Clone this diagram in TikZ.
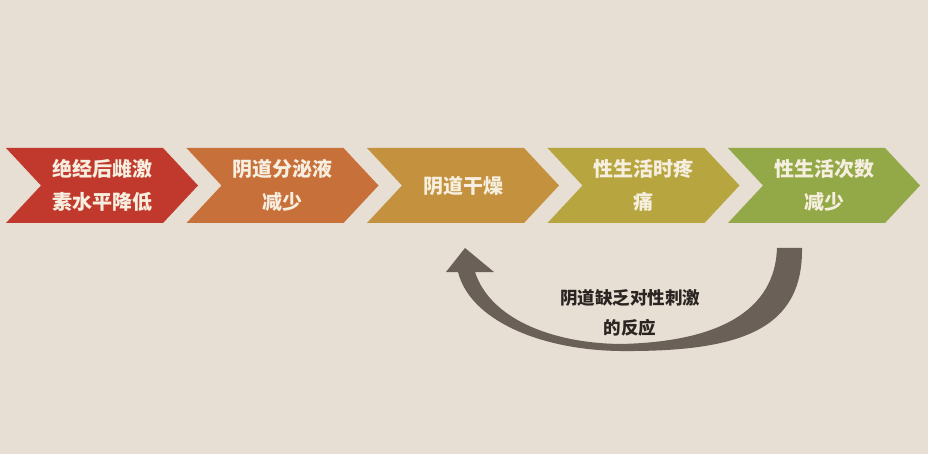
\documentclass[tikz,border=0pt]{standalone}
\usepackage{fontspec}
\newfontfamily\cjk{Noto Sans CJK SC}
\usepackage{tikz}
\usetikzlibrary{positioning,shapes.symbols}

\definecolor{bgcol}{HTML}{E7DED4}
\definecolor{chevA}{HTML}{C1392C}
\definecolor{chevB}{HTML}{C8703A}
\definecolor{chevC}{HTML}{C4923E}
\definecolor{chevD}{HTML}{B7A53F}
\definecolor{chevE}{HTML}{93A846}
\definecolor{txtcol}{HTML}{F6EEDF}
\definecolor{loopcol}{HTML}{6B6058}
\definecolor{notecol}{HTML}{2B2522}

\tikzset{
  chev/.style={signal, signal from=west, signal to=east, signal pointer angle=94,
    minimum width=192pt, minimum height=75pt, inner sep=0pt, draw=none,
    text=txtcol, align=center, font=\cjk\bfseries\fontsize{20}{33}\selectfont},
  note/.style={text=notecol, align=center, font=\cjk\bfseries\fontsize{17.5}{30}\selectfont}
}

\begin{document}
\begin{tikzpicture}[x=1pt, y=-1pt, node distance=180.5pt, on grid]
\fill[bgcol] (0,0) rectangle (928,454);
\useasboundingbox (0,0) rectangle (928,454);

%Nodes
\node[chev, fill=chevA]     (c1)    at (102,185.5)  {绝经后雌激\\素水平降低};
\node[chev, fill=chevB]     (c2)    [right=of c1]   {阴道分泌液\\减少};
\node[chev, fill=chevC]     (c3)    [right=of c2]   {阴道干燥};
\node[chev, fill=chevD]     (c4)    [right=of c3]   {性生活时疼\\痛};
\node[chev, fill=chevE]     (c5)    [right=of c4]   {性生活次数\\减少};
\node[note]                 (n)     at (630,313)    {阴道缺乏对性刺激\\的反应};

%Loop back
\coordinate (from) at (790,248);
\coordinate (tip)  at (465,248);
\fill[loopcol] (802,248) .. controls (803,330) and (740,352) .. (620,351)
    .. controls (540,350) and (470,320) .. (458,272)
    -- (446,272) -- (tip) -- (494,272) -- (475,272)
    .. controls (490,318) and (550,343) .. (620,344)
    .. controls (720,342) and (775,310) .. (777,248) -- cycle;
\end{tikzpicture}
\end{document}
